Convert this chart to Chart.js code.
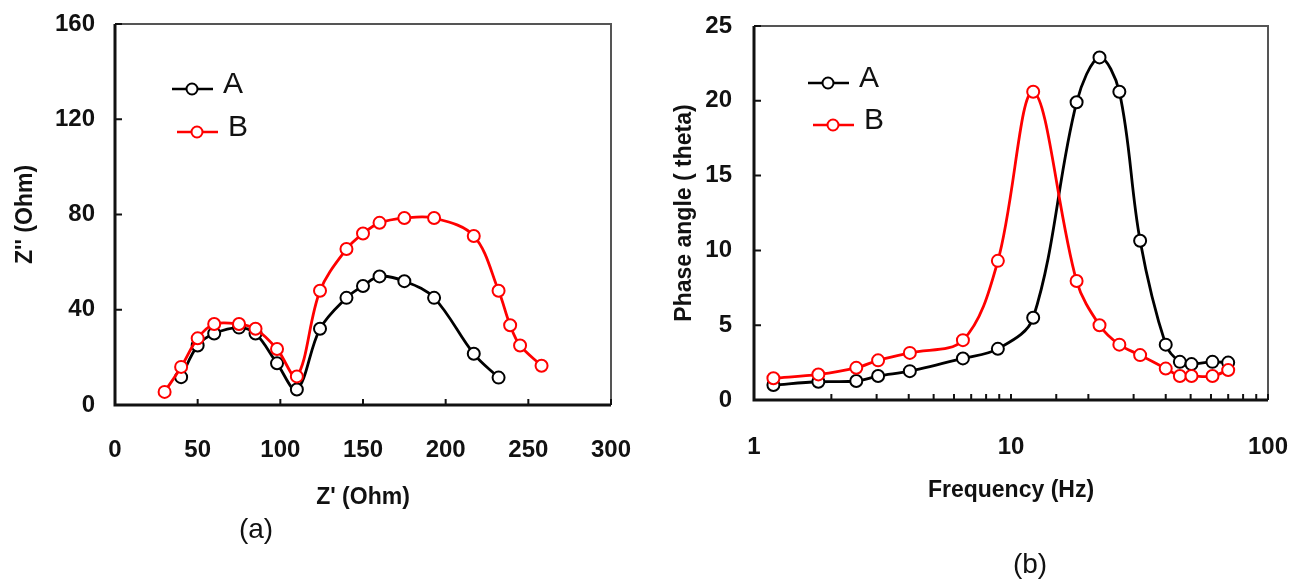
<!DOCTYPE html>
<html>
<head>
<meta charset="utf-8">
<script src="https://cdn.jsdelivr.net/npm/chart.js@4.4.1/dist/chart.umd.min.js"></script>
<style>
  body { margin: 0; background: #fff; }
  .box { position: absolute; top: 0; }
</style>
</head>
<body>
<div class="box" style="left:0"><canvas id="nyquist" width="646" height="582"></canvas></div>
<div class="box" style="left:646px"><canvas id="bode" width="646" height="582"></canvas></div>
<script>
// (a) Nyquist data
const zReA = [40, 50, 60, 75, 85, 98, 110, 124, 140, 150, 160, 175, 193, 217, 232];
const zImA = [11.7, 25, 30, 32.5, 30, 17.5, 6.5, 32, 45, 50, 54, 52, 45, 21.5, 11.5];
const zReB = [30, 40, 50, 60, 75, 85, 98, 110, 124, 140, 150, 160, 175, 193, 217, 232, 239, 245, 258];
const zImB = [5.5, 16, 28, 34, 34, 32, 23.5, 12, 48, 65.5, 72, 76.5, 78.5, 78.5, 71, 48, 33.5, 25, 16.5];

// (b) Bode phase data
const freq = [1.19, 1.78, 2.5, 3.04, 4.04, 6.5, 8.89, 12.2, 18.0, 22.1, 26.4, 31.8, 40, 45.4, 50.4, 60.8, 70];
const phaseA = [1.0, 1.22, 1.27, 1.6, 1.93, 2.78, 3.42, 5.5, 19.9, 22.9, 20.6, 10.65, 3.7, 2.55, 2.4, 2.55, 2.5];
const phaseB = [1.45, 1.71, 2.15, 2.65, 3.15, 4.0, 9.3, 20.6, 7.95, 5.0, 3.7, 3.0, 2.1, 1.6, 1.6, 1.6, 2.0];

const seriesNames = ['A', 'B'];
const logLabels = [1, 10, 100];

const sans = "'Liberation Sans', Arial, sans-serif";
const tickFont = { family: sans, size: 24, weight: 'bold' };
const titleFont = { family: sans, size: 23, weight: 'bold' };

function pts(xs, ys) { return xs.map((v, i) => ({ x: v, y: ys[i] })); }

function series(label, color, data, order) {
  return {
    label: label, data: data, order: order,
    borderColor: color, backgroundColor: '#fff',
    borderWidth: 2.8, tension: 0.35, clip: false,
    pointRadius: 6, pointBorderWidth: 2,
    pointBackgroundColor: '#fff', pointBorderColor: color
  };
}

// fixed box sizes, no extra label padding
function fixSize(w, h) {
  return function (s) {
    if (w) s.width = w;
    if (h) s.height = h;
    s.paddingTop = s.paddingBottom = s.paddingLeft = s.paddingRight = 0;
  };
}

// frame + inward tick marks
const framePlugin = {
  id: 'frame',
  beforeDatasetsDraw(chart) {
    const { ctx, chartArea: a, scales: { x, y } } = chart;
    ctx.save();
    ctx.strokeStyle = '#555';
    ctx.lineWidth = 2;
    ctx.beginPath();
    ctx.moveTo(a.left, a.top); ctx.lineTo(a.right, a.top); ctx.lineTo(a.right, a.bottom);
    ctx.stroke();
    ctx.strokeStyle = '#111';
    ctx.beginPath();
    x.ticks.forEach(t => {
      const px = x.getPixelForValue(t.value);
      ctx.moveTo(px, a.bottom); ctx.lineTo(px, a.bottom - 6);
    });
    y.ticks.forEach(t => {
      const py = y.getPixelForValue(t.value);
      ctx.moveTo(a.left, py); ctx.lineTo(a.left + 7, py);
    });
    ctx.stroke();
    ctx.lineWidth = 3;
    ctx.beginPath();
    ctx.moveTo(a.left, a.top); ctx.lineTo(a.left, a.bottom); ctx.lineTo(a.right, a.bottom);
    ctx.stroke();
    ctx.restore();
  }
};

// legend inside the plot + panel caption
const innerLegend = {
  id: 'innerLegend',
  afterDraw(chart, args, o) {
    const ctx = chart.ctx;
    ctx.save();
    chart.data.datasets.forEach((ds, i) => {
      const x0 = o.x + i * o.dx, y0 = o.y + i * o.dy;
      ctx.strokeStyle = ds.borderColor;
      ctx.lineWidth = 2.5;
      ctx.beginPath(); ctx.moveTo(x0, y0); ctx.lineTo(x0 + 41, y0); ctx.stroke();
      ctx.fillStyle = '#fff';
      ctx.lineWidth = 2;
      ctx.beginPath(); ctx.arc(x0 + 20, y0, 5.5, 0, Math.PI * 2); ctx.fill(); ctx.stroke();
      ctx.fillStyle = '#111';
      ctx.font = "30px " + sans;
      ctx.textBaseline = 'middle';
      ctx.fillText(ds.label, x0 + 51, y0 - 4);
    });
    ctx.font = "28px " + sans;
    ctx.textAlign = 'center';
    ctx.textBaseline = 'middle';
    ctx.fillText(o.caption, o.cx, o.cy);
    ctx.restore();
  }
};

function axis(extra) {
  return Object.assign({
    grid: { display: false, drawTicks: false },
    border: { display: false },
  }, extra);
}

new Chart(document.getElementById('nyquist'), {
  type: 'line',
  data: {
    datasets: [
      series(seriesNames[0], '#000', pts(zReA, zImA), 2),
      series(seriesNames[1], '#ff0000', pts(zReB, zImB), 1)
    ]
  },
  options: {
    responsive: false, animation: false,
    layout: { padding: { top: 24, right: 35, bottom: 0, left: 0 } },
    plugins: {
      legend: { display: false }, tooltip: { enabled: false },
      innerLegend: { x: 172, y: 89, dx: 5, dy: 43, caption: '(a)', cx: 256, cy: 530 }
    },
    scales: {
      x: axis({
        type: 'linear', min: 0, max: 300,
        ticks: { stepSize: 50, font: tickFont, color: '#111', padding: 31, maxRotation: 0 },
        title: { display: true, text: "Z' (Ohm)", font: titleFont, color: '#111', padding: { bottom: 71 } },
        afterFit: fixSize(0, 177)
      }),
      y: axis({
        min: 0, max: 160,
        ticks: { stepSize: 40, font: tickFont, color: '#111', padding: 20 },
        title: { display: true, text: "Z'' (Ohm)", font: titleFont, color: '#111', padding: { top: 12 } },
        afterFit: fixSize(115, 0)
      })
    }
  },
  plugins: [framePlugin, innerLegend]
});

new Chart(document.getElementById('bode'), {
  type: 'line',
  data: {
    datasets: [
      series(seriesNames[0], '#000', pts(freq, phaseA), 2),
      series(seriesNames[1], '#ff0000', pts(freq, phaseB), 1)
    ]
  },
  options: {
    responsive: false, animation: false,
    layout: { padding: { top: 26, right: 24, bottom: 0, left: 0 } },
    plugins: {
      legend: { display: false }, tooltip: { enabled: false },
      innerLegend: { x: 162, y: 83, dx: 5, dy: 42, caption: '(b)', cx: 384, cy: 565 }
    },
    scales: {
      x: axis({
        type: 'logarithmic', min: 1, max: 100,
        ticks: {
          font: tickFont, color: '#111', padding: 33, autoSkip: false, maxRotation: 0,
          callback: v => logLabels.includes(v) ? String(v) : ''
        },
        title: { display: true, text: 'Frequency (Hz)', font: titleFont, color: '#111', padding: { bottom: 78 } },
        afterFit: fixSize(0, 182)
      }),
      y: axis({
        min: 0, max: 25,
        ticks: { stepSize: 5, font: tickFont, color: '#111', padding: 22 },
        title: { display: true, text: 'Phase angle ( theta)', font: titleFont, color: '#111', padding: { top: 25 } },
        afterFit: fixSize(108, 0)
      })
    }
  },
  plugins: [framePlugin, innerLegend]
});
</script>
</body>
</html>
